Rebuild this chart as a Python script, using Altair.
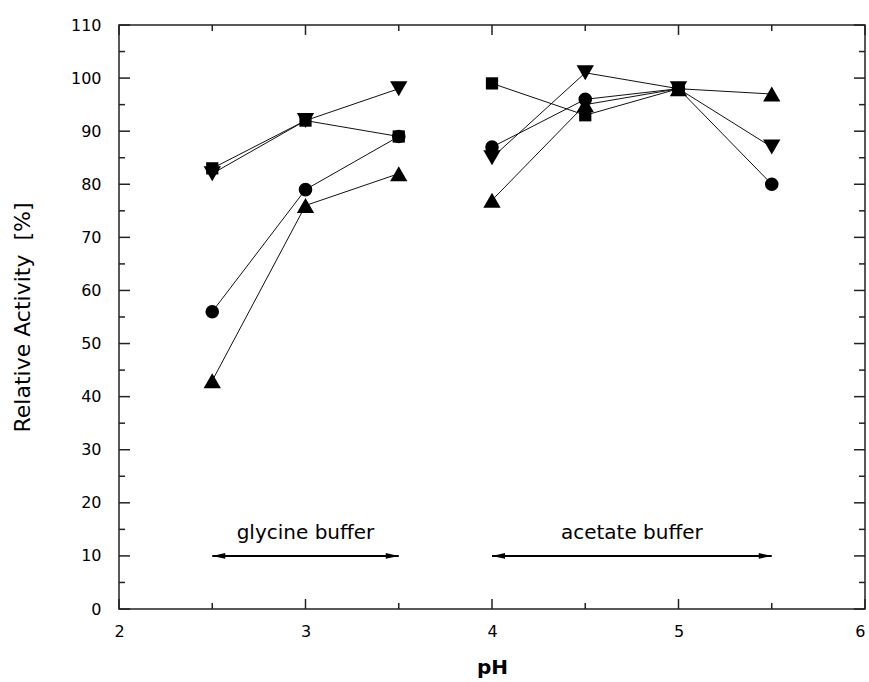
import altair as alt
import pandas as pd

# ---------------- data ----------------
ph_glycine = [2.5, 3.0, 3.5]
ph_acetate = [4.0, 4.5, 5.0, 5.5]

# drawing order: first listed is drawn first (lowest)
series_names = ["circle", "square", "triangle-up", "triangle-down"]
circle_gly = [56, 79, 89]
circle_ace = [87, 96, 98, 80]
square_gly = [83, 92, 89]
square_ace = [99, 93, 98]
tri_up_gly = [43, 76, 82]
tri_up_ace = [77, 95, 98, 97]
tri_down_gly = [82, 92, 98]
tri_down_ace = [85, 101, 98, 87]

x_major = [2, 3, 4, 5, 6]
x_minor = [2.5, 3.5, 4.5, 5.5]
y_major = list(range(0, 111, 10))
y_minor = list(range(5, 110, 10))

buffer_names = ["glycine buffer", "acetate buffer"]
buffer_start = [2.5, 4.0]
buffer_end = [3.5, 5.5]
buffer_label_x = [3.0, 4.75]
buffer_label_y = [14.3, 14.3]
buffer_arrow_y = [10, 10]

# ---------------- tables ----------------
rows = []
for name, gly, ace in zip(series_names,
                          [circle_gly, square_gly, tri_up_gly, tri_down_gly],
                          [circle_ace, square_ace, tri_up_ace, tri_down_ace]):
    for p, v in zip(ph_glycine, gly):
        rows.append({"series": name, "group": name + "-gly", "ph": p, "value": v})
    for p, v in zip(ph_acetate, ace):
        rows.append({"series": name, "group": name + "-ace", "ph": p, "value": v})
df = pd.DataFrame(rows)

buf = pd.DataFrame({
    "name": buffer_names,
    "ph": buffer_start,
    "ph2": buffer_end,
    "lx": buffer_label_x,
    "ly": buffer_label_y,
    "value": buffer_arrow_y,
})

W, H = 746, 584
FONT = "DejaVu Sans"

x_scale = alt.Scale(domain=[2, 6], nice=False, zero=False)
y_scale = alt.Scale(domain=[0, 110], nice=False, zero=False)

x_axis = alt.Axis(values=x_major, format="d", title="pH", grid=False, ticks=False,
                  tickSize=0, domain=False, labelFont=FONT, labelFontSize=16,
                  labelColor="black", labelPadding=14, labelFlush=False,
                  labelAlign={"condition": {"test": "datum.value === 6", "value": "right"},
                              "value": "center"},
                  titleFont=FONT, titleFontSize=20, titleFontWeight="bold",
                  titleColor="black", titleY=58, titleBaseline="middle")
y_axis = alt.Axis(values=y_major, format="d", title="Relative Activity\u00a0 [%]",
                  grid=False, ticks=False, tickSize=0, domain=False,
                  labelFont=FONT, labelFontSize=16, labelColor="black",
                  labelPadding=18, labelFlush=False,
                  titleFont=FONT, titleFontSize=22, titleFontWeight="normal",
                  titleColor="black", titleX=-97, titleY=H / 2, titleAngle=270,
                  titleAlign="center", titleBaseline="middle")

X = alt.X("ph:Q", scale=x_scale, axis=x_axis)
Y = alt.Y("value:Q", scale=y_scale, axis=y_axis)

lines = alt.Chart(df).mark_line(color="#111", strokeWidth=1).encode(
    x=X, y=Y, detail="group:N", order="ph:Q")

marker_sizes = {"circle": 185, "square": 150, "triangle-up": 300, "triangle-down": 300}
point_layers = [
    alt.Chart(df).transform_filter(alt.datum.series == name).mark_point(
        shape=name, size=marker_sizes[name], filled=True, opacity=1, color="black"
    ).encode(x=X, y=Y)
    for name in series_names
]

# ticks pointing inward on all four sides
tick_color = "#222"
def xticks(vals, length, bottom=True):
    d = pd.DataFrame({"ph": vals})
    y0 = H if bottom else 0
    y1 = H - length if bottom else length
    return alt.Chart(d).mark_rule(color=tick_color, strokeWidth=1.5).encode(
        x=alt.X("ph:Q", scale=x_scale), y=alt.value(y0), y2=alt.value(y1))

def yticks(vals, length, left=True):
    d = pd.DataFrame({"value": vals})
    x0 = 0 if left else W
    x1 = length if left else W - length
    return alt.Chart(d).mark_rule(color=tick_color, strokeWidth=1.5).encode(
        y=alt.Y("value:Q", scale=y_scale), x=alt.value(x0), x2=alt.value(x1))

tick_layers = [
    xticks(x_major, 10, True), xticks(x_minor, 6, True),
    xticks(x_major, 10, False), xticks(x_minor, 6, False),
    yticks(y_major, 11, True), yticks(y_minor, 6, True),
    yticks(y_major, 11, False), yticks(y_minor, 6, False),
]

arrow_line = alt.Chart(buf).mark_rule(color="black", strokeWidth=2).encode(
    x=alt.X("ph:Q", scale=x_scale), x2="ph2:Q", y=alt.Y("value:Q", scale=y_scale))
arrow_left = alt.Chart(buf).mark_point(
    shape="M0,0L2,-0.45L2,0.45Z", filled=True, size=169, color="black", opacity=1
).encode(x=alt.X("ph:Q", scale=x_scale), y=alt.Y("value:Q", scale=y_scale))
arrow_right = alt.Chart(buf).mark_point(
    shape="M0,0L-2,-0.45L-2,0.45Z", filled=True, size=169, color="black", opacity=1
).encode(x=alt.X("ph2:Q", scale=x_scale), y=alt.Y("value:Q", scale=y_scale))
labels = alt.Chart(buf).mark_text(font=FONT, fontSize=20, color="black",
                                  align="center", baseline="middle").encode(
    x=alt.X("lx:Q", scale=x_scale), y=alt.Y("ly:Q", scale=y_scale), text="name:N")

chart = alt.layer(lines, *point_layers, *tick_layers, arrow_line, arrow_left,
                  arrow_right, labels).properties(
    width=W, height=H,
    autosize=alt.AutoSizeParams(type="none"),
    padding={"left": 119, "top": 25, "right": 4, "bottom": 73},
    background="white",
).configure_view(stroke="#222", strokeWidth=1.5)

chart.save("out.html", embed_options={"renderer": "svg", "actions": False})
